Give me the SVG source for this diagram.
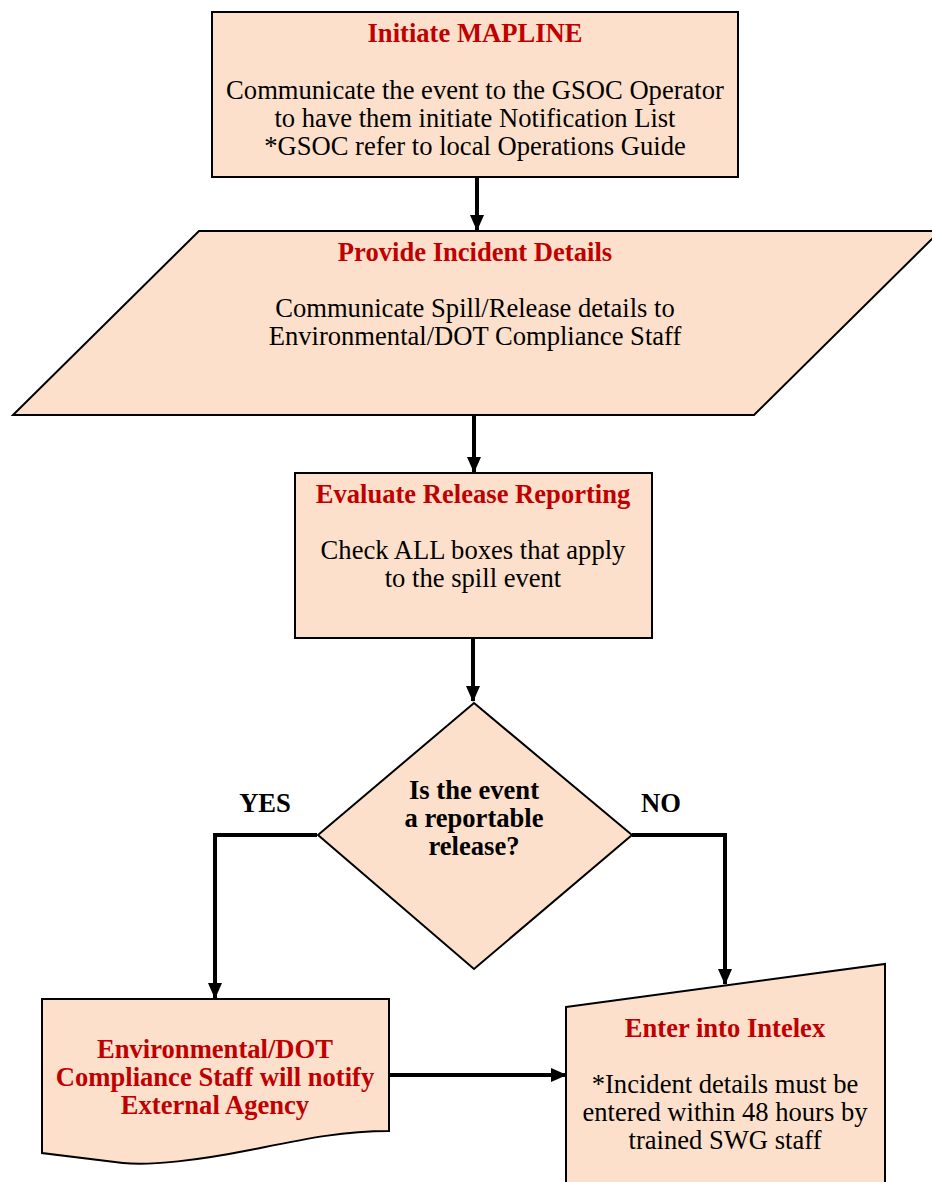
<svg xmlns="http://www.w3.org/2000/svg" width="932" height="1182" viewBox="0 0 932 1182">
<style>
.shape{fill:#FDE0CB;stroke:#000;stroke-width:2}
.t{font-family:"Liberation Serif","Times New Roman",serif;font-size:26.6px;text-anchor:middle;fill:#000}
.h{font-family:"Liberation Serif","Times New Roman",serif;font-size:26.6px;font-weight:bold;text-anchor:middle;fill:#C00000}
.b{font-family:"Liberation Serif","Times New Roman",serif;font-size:26.6px;font-weight:bold;text-anchor:middle;fill:#000}
.c{fill:none;stroke:#000;stroke-width:4}
</style>
<defs>
<marker id="ah" markerUnits="userSpaceOnUse" markerWidth="16" markerHeight="14" refX="15" refY="7" orient="auto" viewBox="0 0 16 14">
<path d="M0,0 L16,7 L0,14 Z" fill="#000"/>
</marker>
</defs>
<rect width="932" height="1182" fill="#fff"/>
<g id="connectors">
<line class="c" x1="477" y1="177" x2="477" y2="230" marker-end="url(#ah)"/>
<line class="c" x1="474" y1="415" x2="474" y2="472" marker-end="url(#ah)"/>
<line class="c" x1="473" y1="638" x2="473" y2="701" marker-end="url(#ah)"/>
<polyline class="c" points="317,835 215,835 215,998" marker-end="url(#ah)"/>
<polyline class="c" points="632,835 725,835 725,984" marker-end="url(#ah)"/>
<line class="c" x1="389" y1="1075" x2="566" y2="1075" marker-end="url(#ah)"/>
</g>
<g id="n1">
<rect class="shape" x="212" y="12" width="526" height="165"/>
<text class="h" x="475" y="42">Initiate MAPLINE</text>
<text class="t" x="475" y="99">Communicate the event to the GSOC Operator</text>
<text class="t" x="475" y="127">to have them initiate Notification List</text>
<text class="t" x="475" y="155">*GSOC refer to local Operations Guide</text>
</g>
<g id="n2">
<polygon class="shape" points="199,231 940,231 754,415 13,415"/>
<text class="h" x="475" y="261">Provide Incident Details</text>
<text class="t" x="475" y="317">Communicate Spill/Release details to</text>
<text class="t" x="475" y="345">Environmental/DOT Compliance Staff</text>
</g>
<g id="n3">
<rect class="shape" x="295" y="473" width="357" height="165"/>
<text class="h" x="473" y="503">Evaluate Release Reporting</text>
<text class="t" x="473" y="559">Check ALL boxes that apply</text>
<text class="t" x="473" y="587">to the spill event</text>
</g>
<g id="n4">
<polygon class="shape" points="474,703 632,835 474,969 318,835"/>
<text class="b" x="474" y="799">Is the event</text>
<text class="b" x="474" y="827">a reportable</text>
<text class="b" x="474" y="855">release?</text>
</g>
<g id="labels">
<text class="b" x="265" y="812">YES</text>
<text class="b" x="661" y="812">NO</text>
</g>
<g id="n5">
<path class="shape" d="M42,999 H389 V1131 C340,1131 300,1140 250,1150 C200,1160 150,1166 123,1163 L42,1153 Z"/>
<text class="h" x="215" y="1058">Environmental/DOT</text>
<text class="h" x="215" y="1086">Compliance Staff will notify</text>
<text class="h" x="215" y="1114">External Agency</text>
</g>
<g id="n6">
<polygon class="shape" points="566,1007 885,964 885,1190 566,1190"/>
<text class="h" x="725" y="1037">Enter into Intelex</text>
<text class="t" x="725" y="1093">*Incident details must be</text>
<text class="t" x="725" y="1121">entered within 48 hours by</text>
<text class="t" x="725" y="1149">trained SWG staff</text>
</g>
</svg>
